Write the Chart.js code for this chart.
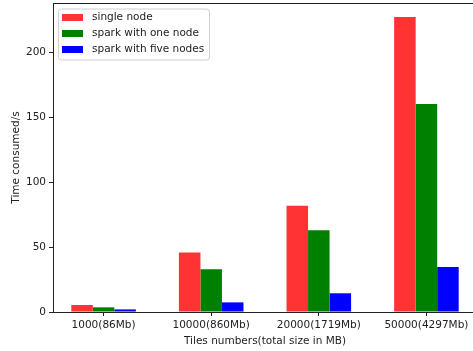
<!DOCTYPE html>
<html>
<head>
<meta charset="utf-8">
<script src="https://cdn.jsdelivr.net/npm/chart.js@4.4.1/dist/chart.umd.min.js"></script>
<style>
  html, body { margin: 0; padding: 0; background: #fff; overflow: hidden; }
  canvas { display: block; }
</style>
</head>
<body>
<canvas id="chart" width="477" height="351"></canvas>
<script>
// data
const categories = ['1000(86Mb)', '10000(860Mb)', '20000(1719Mb)', '50000(4297Mb)'];
const singleNode = [5.4, 45.8, 81.8, 227];
const sparkOneNode = [3.6, 32.8, 62.8, 160];
const sparkFiveNodes = [2, 7.4, 14.4, 34.6];
const yTicks = [0, 50, 100, 150, 200];

const FONT = 'DejaVu Sans';
const FSIZE = 10.5;
const TXT = '#222';

// legend drawn inside the plot like matplotlib, plus top spine
const boxLegend = {
  id: 'boxLegend',
  afterDraw(chart) {
    const c = chart.ctx;
    const a = chart.chartArea;
    c.save();
    c.strokeStyle = '#222';
    c.lineWidth = 1;
    c.beginPath();
    c.moveTo(a.left, a.top + 0.5);
    c.lineTo(a.right, a.top + 0.5);
    c.stroke();

    const x0 = a.left + 5, y0 = a.top + 5.5;
    const w = 151, h = 51;
    c.fillStyle = 'rgba(255,255,255,0.8)';
    c.strokeStyle = '#d0d0d0';
    c.beginPath();
    c.roundRect(x0 + 0.5, y0 + 0.5, w, h, 3);
    c.fill();
    c.stroke();
    c.font = FSIZE + 'px "' + FONT + '"';
    c.textBaseline = 'middle';
    chart.data.datasets.forEach((ds, i) => {
      const cy = y0 + 9 + i * 16;
      c.fillStyle = ds.backgroundColor;
      c.fillRect(x0 + 4, cy - 3.5, 21, 7);
      c.fillStyle = TXT;
      c.fillText(ds.label, x0 + 34, cy);
    });
    c.restore();
  }
};

new Chart(document.getElementById('chart'), {
  type: 'bar',
  data: {
    labels: categories,
    datasets: [
      { label: 'single node', data: singleNode, backgroundColor: '#ff3333' },
      { label: 'spark with one node', data: sparkOneNode, backgroundColor: '#008000' },
      { label: 'spark with five nodes', data: sparkFiveNodes, backgroundColor: '#0000ff' }
    ]
  },
  options: {
    responsive: false,
    animation: false,
    layout: { padding: { top: 3, right: 0, bottom: 0, left: 0 } },
    datasets: { bar: { categoryPercentage: 0.6, barPercentage: 1.0 } },
    plugins: { legend: { display: false }, tooltip: { enabled: false } },
    scales: {
      x: {
        offset: false,
        grid: { drawOnChartArea: false, tickLength: 4, color: '#222', offset: false },
        border: { color: '#222', width: 1 },
        ticks: { color: TXT, font: { family: FONT, size: FSIZE }, padding: 3, maxRotation: 0 },
        title: { display: true, text: 'Tiles numbers(total size in MB)', color: TXT,
                 font: { family: FONT, size: FSIZE }, padding: { top: 2, bottom: 3 } },
        afterFit(s) { s.height = 39; s.paddingLeft = 0; s.paddingRight = 0; },
        // matplotlib-like margins: x range -0.47 .. 3.47
        afterUpdate(s) { s._startValue = -0.47; s._valueRange = 3.94; }
      },
      y: {
        min: 0,
        max: 237.7,
        afterBuildTicks(s) { s.ticks = yTicks.map(v => ({ value: v })); },
        grid: { drawOnChartArea: false, tickLength: 4, color: '#222' },
        border: { color: '#222', width: 1 },
        ticks: { color: TXT, font: { family: FONT, size: FSIZE }, padding: 3 },
        title: { display: true, text: 'Time consumed/s', color: TXT,
                 font: { family: FONT, size: FSIZE }, padding: { top: 10, bottom: 4 } },
        afterFit(s) { s.width = 53; s.paddingTop = 0; s.paddingBottom = 0; }
      }
    }
  },
  plugins: [boxLegend]
});
</script>
</body>
</html>
